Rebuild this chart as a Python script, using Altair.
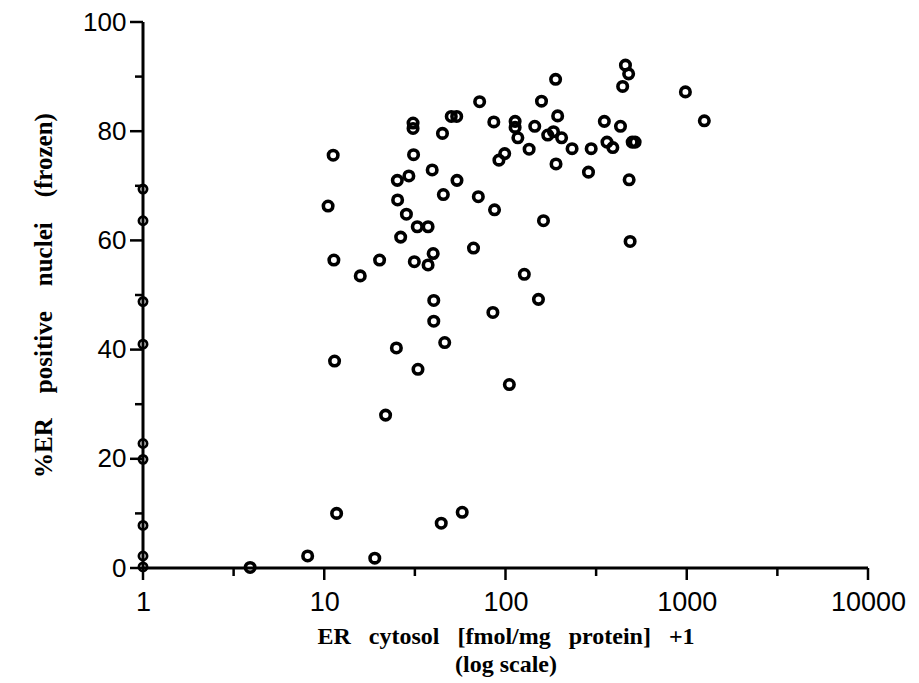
import altair as alt
import pandas as pd

# ER cytosol (+1, log) vs % ER-positive nuclei, frozen sections
cytosol = [
    11.2, 10.5, 11.3, 11.4, 11.7, 8.1, 19.0, 3.9,
    15.8, 20.2, 21.8, 25.0, 32.9, 46.2, 40.2, 40.2, 44.2, 57.7, 85.2, 105,
    152, 127, 66.6, 31.4, 37.4, 39.9, 26.4, 32.6, 37.4, 28.4, 25.4, 25.3,
    29.3, 39.4, 54.0, 45.4, 70.8, 87.0, 162, 31.1, 30.9, 30.9, 44.9, 50.2,
    53.8, 72, 86.2, 158, 113, 113, 145, 171, 184, 204, 117, 135, 99, 92,
    189, 459, 478, 443, 983, 1250, 194, 233, 297, 351, 431, 363, 391, 500,
    519, 190, 287, 481, 487,
]
positive = [
    75.6, 66.3, 56.4, 37.9, 10.0, 2.2, 1.8, 0.1,
    53.5, 56.4, 28.0, 40.3, 36.4, 41.3, 45.2, 49.0, 8.2, 10.2, 46.8, 33.6,
    49.2, 53.8, 58.6, 56.1, 55.5, 57.6, 60.6, 62.5, 62.5, 64.8, 67.4, 71.0,
    71.8, 72.9, 71.0, 68.4, 68.0, 65.6, 63.6, 75.7, 81.5, 80.5, 79.6, 82.7,
    82.7, 85.4, 81.7, 85.5, 81.8, 80.7, 80.9, 79.3, 79.9, 78.8, 78.8, 76.7,
    75.9, 74.7, 89.5, 92.1, 90.5, 88.2, 87.2, 81.9, 82.8, 76.8, 76.8, 81.8,
    80.9, 78.0, 77.0, 78.0, 78.0, 74.0, 72.5, 71.1, 59.8,
]

# cases with no measurable cytosol ER (value 0, plotted at 0 + 1)
zero_cytosol = [1, 1, 1, 1, 1, 1, 1, 1, 1]
zero_positive = [69.4, 63.6, 48.8, 41.0, 22.8, 19.9, 7.8, 2.2, 0.2]

x_range = [1, 10000]
y_range = [0, 100]
x_major = [1, 10, 100, 1000, 10000]
x_minor = [3.162, 31.62, 316.2, 3162]
y_major = [0, 20, 40, 60, 80, 100]
y_minor = [10, 30, 50, 70, 90]

main = pd.DataFrame({"cytosol": cytosol, "positive": positive})
zeros = pd.DataFrame({"cytosol": zero_cytosol, "positive": zero_positive})

INK = "black"
SERIF = "Liberation Serif"
SANS = "Liberation Sans"
SP = "\u00a0\u00a0\u00a0"
SPY = "\u00a0\u00a0\u00a0\u00a0"
H = 546  # plot height in px

x_scale = alt.Scale(type="log", domain=x_range, nice=False)
y_scale = alt.Scale(domain=y_range, nice=False, zero=True)

x_title = [
    f"ER{SP}cytosol{SP}[fmol/mg{SP}protein]{SP}+1",
    "(log scale)",
]
y_title = f"%ER{SPY}positive{SPY}nuclei{SPY}(frozen)"

x_axis = alt.Axis(
    orient="bottom",
    values=x_major,
    format="d",
    domain=False,
    ticks=False,
    grid=False,
    labelFont=SANS,
    labelColor=INK,
    labelFlush=False,
    labelOverlap=False,
    labelFontSize=27,
    labelPadding=21,
    title=x_title,
    titleFont=SERIF,
    titleFontWeight="bold",
    titleColor=INK,
    titleFontSize=24,
    titleBaseline="top",
    titleY=56,
    titleLineHeight=28,
)
y_axis = alt.Axis(
    orient="left",
    values=y_major,
    domain=False,
    ticks=False,
    grid=False,
    labelFont=SANS,
    labelColor=INK,
    labelFlush=False,
    labelOverlap=False,
    labelFontSize=26,
    labelPadding=17,
    title=y_title,
    titleFont=SERIF,
    titleFontWeight="bold",
    titleColor=INK,
    titleFontSize=25,
    titleBaseline="middle",
    titleX=-100,
)

points = alt.Chart(main).mark_point(
    shape="circle", filled=False, size=90, strokeWidth=3.6, color=INK, opacity=1
).encode(
    x=alt.X("cytosol:Q", scale=x_scale, axis=x_axis),
    y=alt.Y("positive:Q", scale=y_scale, axis=y_axis),
)

axis_points = alt.Chart(zeros).mark_point(
    shape="circle", filled=False, size=66, strokeWidth=2.8, color=INK, opacity=1
).encode(
    x=alt.X("cytosol:Q", scale=x_scale),
    y=alt.Y("positive:Q", scale=y_scale),
)

# axis lines spanning the scale domains
x_line = alt.Chart(pd.DataFrame({"lo": [x_range[0]], "hi": [x_range[1]]})).mark_rule(
    color=INK, size=3
).encode(
    x=alt.X("lo:Q", scale=x_scale),
    x2="hi:Q",
    y=alt.value(H),
)
y_line = alt.Chart(pd.DataFrame({"lo": [y_range[0]], "hi": [y_range[1]]})).mark_rule(
    color=INK, size=3
).encode(
    y=alt.Y("lo:Q", scale=y_scale),
    y2="hi:Q",
    x=alt.value(0),
)

# tick marks: long at labelled values, short in between
x_major_ticks = alt.Chart(pd.DataFrame({"v": x_major})).mark_rule(
    color=INK, size=2.5
).encode(x=alt.X("v:Q", scale=x_scale), y=alt.value(H), y2=alt.value(H + 12))
x_minor_ticks = alt.Chart(pd.DataFrame({"v": x_minor})).mark_rule(
    color=INK, size=2.5
).encode(x=alt.X("v:Q", scale=x_scale), y=alt.value(H), y2=alt.value(H + 8))
y_major_ticks = alt.Chart(pd.DataFrame({"v": y_major})).mark_rule(
    color=INK, size=2.5
).encode(y=alt.Y("v:Q", scale=y_scale), x=alt.value(0), x2=alt.value(-13))
y_minor_ticks = alt.Chart(pd.DataFrame({"v": y_minor})).mark_rule(
    color=INK, size=2.5
).encode(y=alt.Y("v:Q", scale=y_scale), x=alt.value(0), x2=alt.value(-8))

chart = (
    alt.layer(
        points,
        axis_points,
        x_line,
        y_line,
        x_major_ticks,
        x_minor_ticks,
        y_major_ticks,
        y_minor_ticks,
    )
    .properties(
        width=725,
        height=H,
        autosize=alt.AutoSizeParams(type="none"),
        padding={"left": 143, "top": 22, "right": 51, "bottom": 115},
        background="white",
    )
    .configure_view(stroke=None)
)

chart.save("out.html", embed_options={"renderer": "svg", "actions": False})
